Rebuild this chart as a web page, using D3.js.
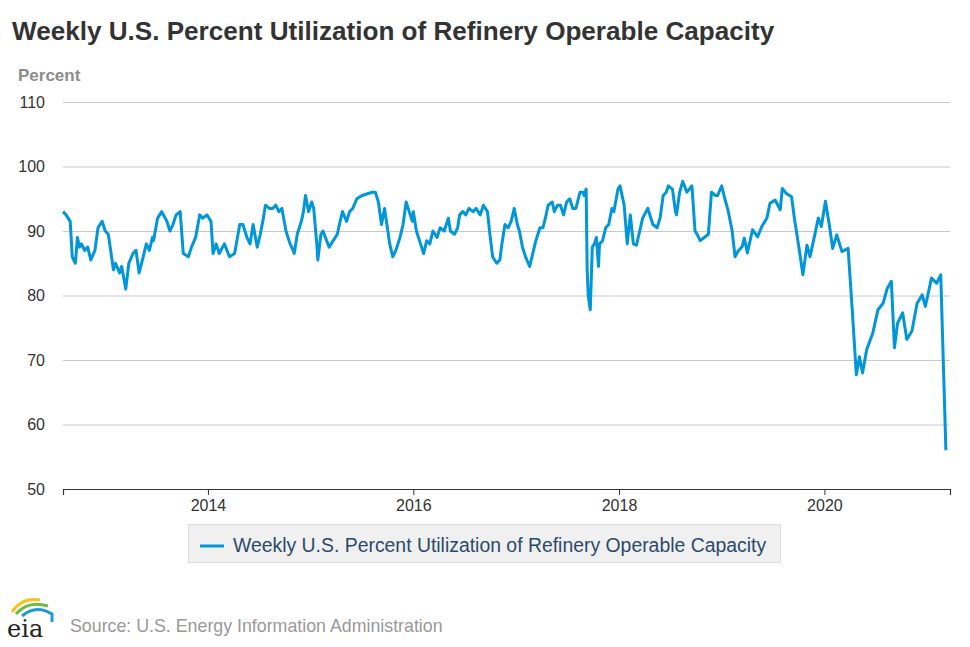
<!DOCTYPE html>
<html><head><meta charset="utf-8">
<script src="https://cdn.jsdelivr.net/npm/d3@7"></script>
<style>body{margin:0;background:#fff;font-family:Arial,"Liberation Sans",sans-serif}</style>
</head><body><svg id="c" width="970" height="647"></svg>
<script>
// decimal years of the weekly readings (sampled off the chart)
var years = [2012.59,2012.62,2012.66,2012.68,2012.71,2012.73,2012.75,2012.77,2012.80,2012.83,2012.86,2012.90,2012.93,2012.97,2013.00,2013.03,2013.08,2013.10,2013.14,2013.16,2013.20,2013.23,2013.27,2013.30,2013.33,2013.37,2013.40,2013.43,2013.46,2013.47,2013.51,2013.55,2013.60,2013.63,2013.66,2013.69,2013.73,2013.76,2013.81,2013.84,2013.88,2013.92,2013.95,2013.99,
  2014.03,2014.05,2014.08,2014.11,2014.16,2014.21,2014.26,2014.31,2014.34,2014.38,2014.41,2014.44,2014.48,2014.51,2014.54,2014.56,2014.60,2014.63,2014.66,2014.69,2014.72,2014.76,2014.80,2014.83,2014.84,2014.87,2014.91,2014.93,2014.95,2014.98,
  2015.01,2015.03,2015.06,2015.07,2015.10,2015.12,2015.18,2015.22,2015.26,2015.28,2015.31,2015.35,2015.38,2015.41,2015.45,2015.50,2015.60,2015.63,2015.66,2015.69,2015.72,2015.77,2015.80,2015.83,2015.87,2015.90,2015.93,2015.96,2015.99,
  2016.00,2016.03,2016.07,2016.10,2016.13,2016.16,2016.19,2016.23,2016.26,2016.30,2016.34,2016.36,2016.40,2016.43,2016.45,2016.48,2016.51,2016.54,2016.58,2016.61,2016.65,2016.68,2016.72,2016.74,2016.77,2016.81,2016.84,2016.86,2016.89,2016.92,2016.95,2016.98,
  2017.01,2017.03,2017.06,2017.09,2017.13,2017.16,2017.19,2017.23,2017.26,2017.29,2017.31,2017.35,2017.37,2017.40,2017.43,2017.46,2017.49,2017.52,2017.55,2017.58,2017.62,2017.65,2017.66,2017.68,2017.69,2017.70,2017.72,2017.74,2017.76,2017.78,2017.80,2017.81,2017.84,2017.87,2017.90,2017.93,2017.95,2017.99,
  2018.01,2018.05,2018.08,2018.11,2018.14,2018.17,2018.23,2018.28,2018.33,2018.37,2018.40,2018.43,2018.46,2018.48,2018.52,2018.55,2018.56,2018.59,2018.62,2018.66,2018.71,2018.74,2018.76,2018.79,2018.83,2018.87,2018.90,2018.94,2018.96,
  2019.00,2019.03,2019.06,2019.10,2019.13,2019.16,2019.20,2019.22,2019.25,2019.30,2019.35,2019.39,2019.44,2019.47,2019.52,2019.57,2019.59,2019.63,2019.68,2019.71,2019.76,2019.79,2019.83,2019.86,2019.91,2019.94,2019.97,
  2020.01,2020.05,2020.08,2020.12,2020.17,2020.23,2020.27,2020.31,2020.34,2020.37,2020.41,2020.47,2020.52,2020.57,2020.61,2020.65,2020.68,2020.71,2020.76,2020.80,2020.85,2020.90,2020.95,2020.98,
  2021.04,2021.09,2021.13,2021.18];
var values = [93,92.5,91.5,86,85,89,87.5,88,87,87.5,85.5,87,90.5,91.5,90,89.5,84,85,83.5,84.5,81,85,86.5,87,83.5,86,88,87,89,88.5,92,93,91.5,90,91,92.5,93,86.5,86,87.5,89,92.5,92,92.5,
  91.5,86.5,88,86.5,88,86,86.5,91,91,89,88,91,87.5,89.5,92,94,93.5,93.5,94,93,93.5,90,88,87,86.5,89.5,91.5,93,95.5,93,
  94.5,93.5,88,85.5,89.5,90,87.5,88.5,89.5,91,93,91.5,93,93.5,95,95.5,96,96,94.5,91,93.5,88,86,87,89,91,94.5,93,91.5,
  93,90,88,86.5,88.5,88,90,89,90.5,90,92,90,89.5,90.5,92.5,93,92.5,93.5,93,93.5,92.5,94,93,90,86,85,85.5,88,91,90.5,91.5,93.5,
  91,90,87.5,86,84.5,86.5,88.5,90.5,90.5,92.5,94,94.5,93,94,94,92.5,94.5,95,93.5,93.5,96,96,95.5,96.5,84,80,77.8,87.5,88,89,84.5,88,88.5,90.5,91,93.5,93,96.5,
  97,94,88,92.5,88,87.8,92,93.5,91,90.5,92,95.5,96,97,96.5,93,92.5,96,97.7,96,97,90,89.5,88.5,89,89.5,96,95.5,95.5,
  97,95,93.3,90.2,86,86.9,87.6,88.9,86.6,90.2,89.1,90.7,92,94.3,94.8,93.3,96.6,95.8,95.3,91.7,86.6,83.2,87.8,86,89.7,92,90.7,
  94.6,90.7,87.3,89.4,86.8,87.3,77.8,67.7,70.5,68,71.6,74.2,77.8,78.8,81.1,82.2,71.9,75.7,77.3,73.2,74.5,78.8,80.1,78.3,
  82.7,81.9,83.2,56];
var yTicks = [50,60,70,80,90,100,110];
var xTickYears = [2014,2016,2018,2020];
var seriesName = 'Weekly U.S. Percent Utilization of Refinery Operable Capacity';

function toDate(y) {
  var yr = Math.floor(y), s = new Date(yr, 0, 1), e = new Date(yr + 1, 0, 1);
  return new Date(s.getTime() + (y - yr) * (e - s));
}
var data = years.map(function(y, i) { return { date: toDate(y), value: values[i] }; });

var svg = d3.select('#c');
var plotL = 63, plotR = 950, plotT = 102, plotB = 489;
var x = d3.scaleTime().domain([toDate(2012.59), toDate(2021.22)]).range([plotL, plotR]);
var y = d3.scaleLinear().domain([50, 110]).range([plotB, plotT]);

svg.append('text').attr('x', 12).attr('y', 40).text('Weekly U.S. Percent Utilization of Refinery Operable Capacity')
  .attr('font-size', 26.1).attr('font-weight', 'bold').attr('fill', '#333');
svg.append('text').attr('x', 18).attr('y', 81).text('Percent')
  .attr('font-size', 17).attr('font-weight', 'bold').attr('fill', '#8c8c8c');

// grid + y labels
var gy = svg.append('g').attr('transform', 'translate(' + plotL + ',0)')
  .call(d3.axisLeft(y).tickValues(yTicks).tickSize(-(plotR - plotL)).tickPadding(18));
gy.select('.domain').remove();
gy.selectAll('line').attr('stroke', '#c8c8c8').attr('stroke-width', 1.2);
gy.selectAll('text').attr('font-size', 16).attr('fill', '#333').attr('font-family', 'Arial, Liberation Sans, sans-serif');

// x axis
var gx = svg.append('g').attr('transform', 'translate(0,' + plotB + ')')
  .call(d3.axisBottom(x).tickValues(xTickYears.map(function(d) { return new Date(d, 0, 1); }))
    .tickFormat(d3.timeFormat('%Y')).tickSize(6).tickPadding(5));
gx.select('.domain').attr('stroke', '#333').attr('stroke-width', 1.2);
gx.selectAll('line').attr('stroke', '#333');
gx.selectAll('text').attr('font-size', 16).attr('fill', '#333').attr('font-family', 'Arial, Liberation Sans, sans-serif');

svg.append('path').datum(data)
  .attr('fill', 'none').attr('stroke', '#0096d7').attr('stroke-width', 3).attr('stroke-linejoin', 'round')
  .attr('d', d3.line().x(function(d) { return x(d.date); }).y(function(d) { return y(d.value); }));

// legend
var lg = svg.append('g');
lg.append('rect').attr('x', 188.5).attr('y', 524.5).attr('width', 592).attr('height', 38)
  .attr('fill', '#f0f0f0').attr('stroke', '#dcdcdc');
lg.append('line').attr('x1', 200).attr('x2', 224).attr('y1', 546).attr('y2', 546)
  .attr('stroke', '#0096d7').attr('stroke-width', 3);
lg.append('text').attr('x', 233).attr('y', 552).text(seriesName)
  .attr('font-size', 19.4).attr('fill', '#2b4a6b');

// eia logo + source
var logo = svg.append('g');
logo.append('path').attr('d', 'M12,612 Q22,597 40,600').attr('fill', 'none').attr('stroke', '#f2c318').attr('stroke-width', 3);
logo.append('path').attr('d', 'M16,614 Q28,600 48,606').attr('fill', 'none').attr('stroke', '#6dbb45').attr('stroke-width', 3);
logo.append('path').attr('d', 'M22,616 Q36,604 52,614 L52,622').attr('fill', 'none').attr('stroke', '#1f9ad6').attr('stroke-width', 3);
logo.append('text').attr('x', 7).attr('y', 637).text('eia')
  .attr('font-family', 'DejaVu Serif, serif').attr('font-size', 24).attr('fill', '#222');
svg.append('text').attr('x', 70).attr('y', 632).text('Source: U.S. Energy Information Administration')
  .attr('font-size', 17.8).attr('fill', '#999');
</script></body></html>
